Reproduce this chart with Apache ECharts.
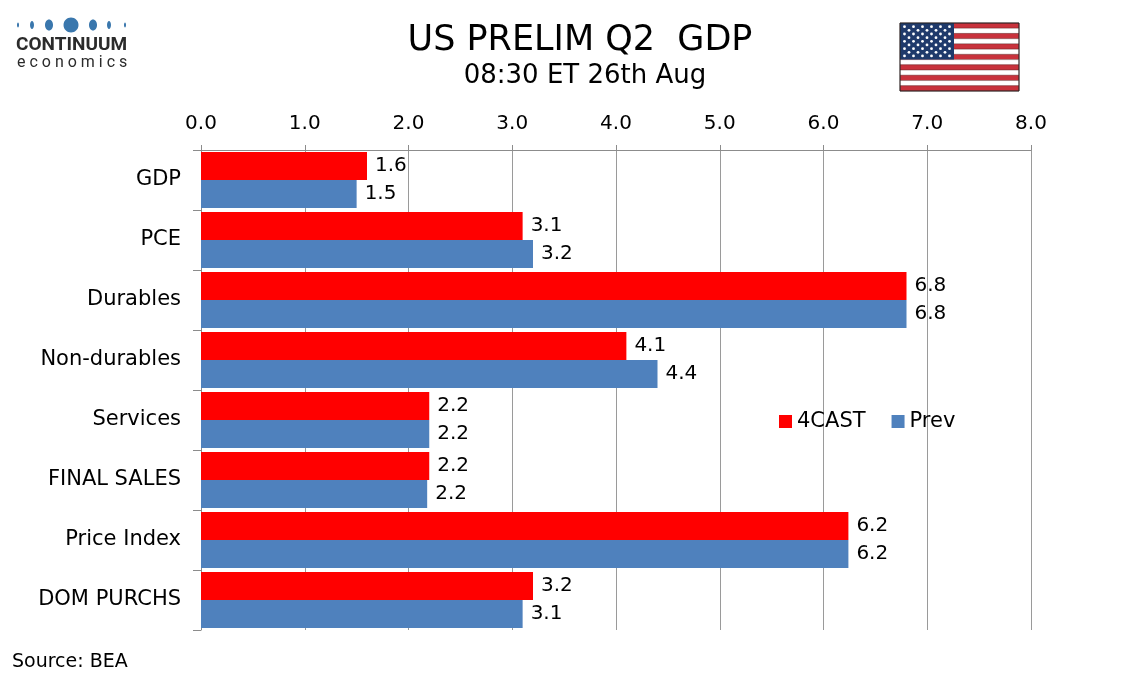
<!DOCTYPE html>
<html><head><meta charset="utf-8">
<script src="https://cdn.jsdelivr.net/npm/echarts@6/dist/echarts.min.js"></script>
<style>html,body{margin:0;padding:0;background:#fff}#c{width:1134px;height:680px}</style>
</head><body><div id="c"></div>
<script>
var categories = ['GDP','PCE','Durables','Non-durables','Services','FINAL SALES','Price Index','DOM PURCHS'];
var forecast = [1.6, 3.1, 6.8, 4.1, 2.2, 2.2, 6.24, 3.2];
var prev = [1.5, 3.2, 6.8, 4.4, 2.2, 2.18, 6.24, 3.1];
var xTicks = [0,1,2,3,4,5,6,7,8];

var FONT = 'DejaVu Sans';
var graphics = [];
// logo dots
var dots = [[18,1,2.5],[32,2,4],[49,4,5.5],[71,7.5,7.5],[93,4,5.5],[109,2,4],[125,1,2.5]];
dots.forEach(function(d){
  graphics.push({type:'ellipse', shape:{cx:d[0], cy:25, rx:d[1], ry:d[2]}, style:{fill:'#3a77ad'}});
});
graphics.push({type:'text', x:16, y:36, style:{text:'CONTINUUM', font:'bold 19px Roboto', fill:'#2b2b2b'}});
graphics.push({type:'text', x:17, y:55, style:{text:'e c o n o m i c s', font:'16px Roboto', fill:'#2b2b2b'}});
// titles
graphics.push({type:'text', x:580, y:23, style:{text:'US PRELIM Q2  GDP', font:'35px "DejaVu Sans"', fill:'#000', align:'center'}});
graphics.push({type:'text', x:585, y:63, style:{text:'08:30 ET 26th Aug', font:'26px "DejaVu Sans"', fill:'#000', align:'center'}});
graphics.push({type:'text', x:12, y:653, style:{text:'Source: BEA', font:'19px "DejaVu Sans"', fill:'#000'}});
// flag
var fx=900, fy=23, fw=119, fh=68, sh=fh/13;
for (var i=0;i<13;i++){
  graphics.push({type:'rect', shape:{x:fx, y:fy+i*sh, width:fw, height:sh}, style:{fill:(i%2===0)?'#c8323c':'#ffffff', stroke:'#6a2a2a', lineWidth:0.4}});
}
var cw=54, ch=sh*7;
graphics.push({type:'rect', shape:{x:fx, y:fy, width:cw, height:ch}, style:{fill:'#1f3a6b'}});
for (var r=0;r<9;r++){
  var n = (r%2===0)?6:5;
  for (var k=0;k<n;k++){
    var sx = fx + cw/12*(2*k+1+(r%2));
    var sy = fy + ch/10*(r+1);
    graphics.push({type:'circle', shape:{cx:sx, cy:sy, r:1.4}, style:{fill:'#ffffff'}});
  }
}
graphics.push({type:'rect', shape:{x:fx, y:fy, width:fw, height:fh}, style:{fill:'none', stroke:'#222', lineWidth:1}});

var labelCfg = {show:true, position:'right', distance:8, color:'#000', fontFamily:FONT, fontSize:20,
  formatter:function(p){return p.value.toFixed(1);}};

var chart = echarts.init(document.getElementById('c'));
chart.setOption({
  animation:false,
  backgroundColor:'#fff',
  textStyle:{fontFamily:FONT},
  grid:{left:201, right:103, top:150, bottom:50},
  legend:{left:774, top:406, itemWidth:13, itemHeight:13, itemGap:26, icon:'rect',
    textStyle:{fontFamily:FONT, fontSize:21, color:'#000'}, data:['4CAST','Prev']},
  xAxis:{type:'value', position:'top', min:xTicks[0], max:xTicks[xTicks.length-1], interval:1,
    axisLine:{show:true, lineStyle:{color:'#8c8c8c'}},
    axisTick:{show:true, length:5, lineStyle:{color:'#8c8c8c'}},
    axisLabel:{color:'#000', fontFamily:FONT, fontSize:20, margin:16, formatter:function(v){return v.toFixed(1);}},
    splitLine:{show:true, lineStyle:{color:'#9a9a9a'}}},
  yAxis:{type:'category', inverse:true, data:categories,
    axisLine:{show:true, lineStyle:{color:'#8c8c8c'}},
    axisTick:{show:true, length:8, lineStyle:{color:'#8c8c8c'}},
    axisLabel:{color:'#000', fontFamily:FONT, fontSize:21, margin:20}},
  series:[
    {name:'4CAST', type:'bar', data:forecast, barGap:'0%', barCategoryGap:'7%', itemStyle:{color:'#ff0000'}, label:labelCfg},
    {name:'Prev', type:'bar', data:prev, itemStyle:{color:'#4f81bd'}, label:labelCfg}
  ],
  graphic:graphics
});
</script></body></html>
